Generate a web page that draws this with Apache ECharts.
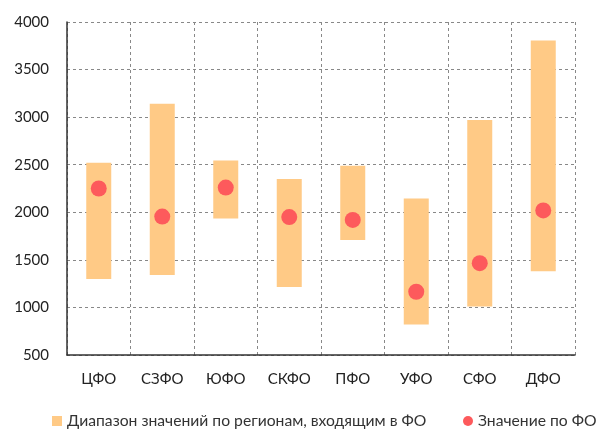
<!DOCTYPE html>
<html><head><meta charset="utf-8">
<script src="https://cdn.jsdelivr.net/npm/echarts@6/dist/echarts.min.js"></script>
<style>html,body{margin:0;padding:0;background:#fff}#c{width:597px;height:429px}</style>
</head><body><div id="c"></div>
<script>
const categories = ['ЦФО','СЗФО','ЮФО','СКФО','ПФО','УФО','СФО','ДФО'];
const rangeLow  = [1300, 1340, 1935, 1215, 1710, 820, 1010, 1380];
const rangeHigh = [2520, 3140, 2545, 2350, 2490, 2145, 2970, 3805];
const foValue   = [2250, 1955, 2260, 1950, 1920, 1165, 1465, 2020];
const yTicks = [500, 1000, 1500, 2000, 2500, 3000, 3500, 4000];
const rangeName = 'Диапазон значений по регионам, входящим в ФО';
const valueName = 'Значение по ФО';

const font = 'Lato, "Noto Sans", sans-serif';
const legendBase = {
  top: 413, itemWidth: 10, itemHeight: 10, padding: 0,
  textStyle: { fontSize: 15.7, color: '#333', fontFamily: font }
};
const chart = echarts.init(document.getElementById('c'));
chart.setOption({
  animation: false,
  textStyle: { fontFamily: font },
  grid: { left: 67, right: 22, top: 22, bottom: 74 },
  legend: [
    Object.assign({ data: [{ name: rangeName, icon: 'rect' }], left: 52 }, legendBase),
    Object.assign({ data: [{ name: valueName, icon: 'circle' }], left: 463 }, legendBase)
  ],
  xAxis: {
    type: 'category', data: categories,
    axisLine: { lineStyle: { color: '#333', width: 1.5 } },
    axisTick: { show: false },
    axisLabel: { color: '#222', fontSize: 15, margin: 17, fontFamily: font },
    splitLine: { show: true, lineStyle: { color: '#888', type: [3, 3] } }
  },
  yAxis: {
    type: 'value', min: yTicks[0], max: yTicks[yTicks.length - 1], interval: 500,
    axisLine: { show: true, lineStyle: { color: '#333', width: 1.5 } },
    axisTick: { show: false },
    axisLabel: { color: '#222', fontSize: 15, margin: 18, fontFamily: font,
                 formatter: v => String(v) },
    splitLine: { show: true, lineStyle: { color: '#888', type: [3, 3] } }
  },
  series: [
    { name: 'base', type: 'bar', stack: 'r', data: rangeLow, barWidth: 25,
      itemStyle: { color: 'transparent' }, silent: true },
    { name: rangeName, type: 'bar', stack: 'r', barWidth: 25,
      data: rangeHigh.map((h, i) => h - rangeLow[i]),
      itemStyle: { color: '#ffca86' } },
    { name: valueName, type: 'scatter', data: foValue, symbolSize: 16,
      itemStyle: { color: '#fd5a5c', opacity: 1 }, z: 5 }
  ]
});
</script></body></html>
